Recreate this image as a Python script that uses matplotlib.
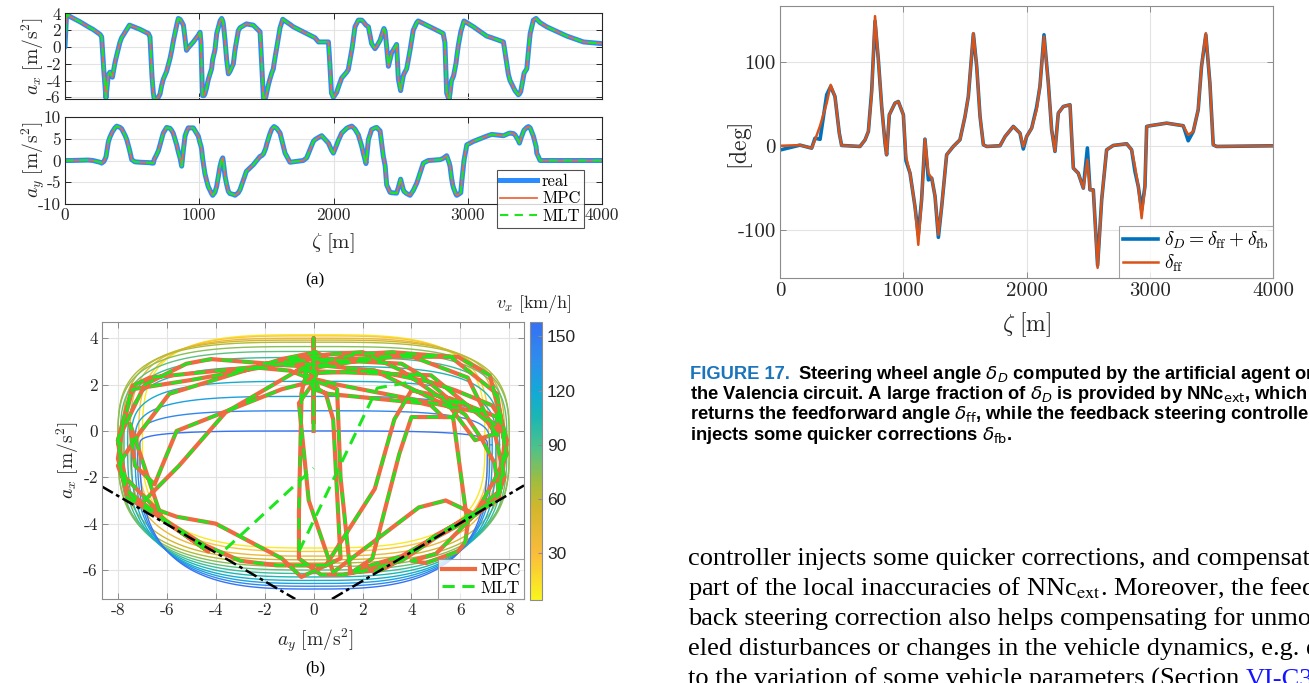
import numpy as np
import matplotlib
matplotlib.use("Agg")
import matplotlib.pyplot as plt
from matplotlib.colors import LinearSegmentedColormap, Normalize
from matplotlib.lines import Line2D

plt.rcParams["mathtext.fontset"] = "cm"
plt.rcParams["axes.unicode_minus"] = False
plt.rcParams["font.family"] = ["cmr10", "DejaVu Serif"]
plt.rcParams["axes.formatter.use_mathtext"] = False

# ---------------------------------------------------------------------------
# Longitudinal / lateral acceleration along the lap (common stations)
zeta = [0, 12, 40, 112, 174, 208, 261, 273, 290, 305,
        323, 335, 353, 372, 385, 410, 422, 447, 460, 480,
        497, 520, 559, 621, 633, 648, 658, 665, 680, 695,
        708, 720, 732, 757, 782, 795, 807, 832, 844, 857,
        869, 882, 894, 905, 918, 956, 993, 1006, 1013, 1018,
        1025, 1035, 1042, 1054, 1067, 1092, 1100, 1117, 1130, 1155,
        1167, 1175, 1180, 1192, 1204, 1217, 1229, 1254, 1266, 1291,
        1304, 1351, 1403, 1453, 1465, 1478, 1495, 1503, 1515, 1527,
        1540, 1552, 1557, 1577, 1602, 1622, 1639, 1676, 1701, 1775,
        1800, 1850, 1862, 1888, 1912, 1962, 1969, 1985, 1999, 2024,
        2036, 2061, 2098, 2110, 2136, 2140, 2160, 2185, 2210, 2222,
        2242, 2260, 2284, 2309, 2322, 2347, 2371, 2376, 2385, 2396,
        2409, 2421, 2433, 2470, 2483, 2500, 2519, 2525, 2545, 2570,
        2594, 2620, 2631, 2669, 2693, 2707, 2794, 2817, 2830, 2843,
        2861, 2868, 2879, 2888, 2895, 2913, 2918, 2930, 2948, 2955,
        2968, 2972, 2993, 3043, 3141, 3179, 3266, 3303, 3315, 3340,
        3352, 3377, 3385, 3395, 3414, 3420, 3440, 3452, 3465, 3489,
        3509, 3514, 3539, 3589, 3738, 3862, 4000]
ax_mpc = [0.0, 4.0, 3.6, 3.0, 2.4, 2.1, 1.5, 1.2, -3.0, -6.1,
          -3.3, -3.0, -3.6, -1.9, -1.0, 0.6, 1.1, 1.75, 2.1, 2.6,
          2.5, 2.35, 2.1, 1.6, 1.2, -3.5, -5.5, -6.2, -6.2, -6.0,
          -5.6, -4.6, -3.85, -2.9, -1.4, -0.4, 0.7, 2.6, 3.4, 3.3,
          3.0, 2.6, 1.0, -0.4, -0.1, 0.6, 1.4, 1.75, 0.5, -2.5,
          -5.8, -5.8, -5.6, -4.9, -3.9, -2.6, -1.5, -0.35, 1.6, 3.1,
          3.4, 3.1, 2.7, 0.8, -1.5, -3.2, -2.9, -2.0, -0.4, 1.95,
          2.3, 2.75, 2.6, 1.8, -2.0, -6.1, -6.0, -5.4, -4.5, -3.8,
          -3.1, -2.6, -2.0, -0.06, 2.3, 3.3, 3.1, 2.7, 2.4, 1.8,
          1.6, 1.2, 1.1, 0.6, 0.6, 0.6, -1.0, -5.5, -6.0, -5.4,
          -4.8, -3.7, -3.0, -2.7, -0.4, 0.0, 2.4, 3.2, 3.2, 3.0,
          2.6, 2.4, 0.4, -0.2, 0.1, 0.8, 2.0, 2.2, 1.8, 0.0,
          -2.3, -1.5, -0.7, 0.3, -3.8, -5.2, -3.5, -3.2, -2.6, -0.4,
          2.0, 2.9, 3.1, 2.8, 2.6, 2.5, 1.8, 1.6, 0.5, -5.5,
          -6.3, -5.5, -4.0, -3.7, -3.4, -1.9, -1.2, 0.2, 1.8, 2.2,
          2.9, 3.1, 2.9, 2.4, 1.3, 1.1, 0.6, -3.3, -4.0, -4.8,
          -5.2, -5.7, -5.6, -5.3, -3.6, -3.1, -2.6, -0.5, 1.6, 3.2,
          3.4, 3.3, 2.9, 2.4, 1.3, 0.6, 0.4]
ay_mpc = [0.0, 0.0, 0.0, 0.05, 0.1, 0.0, -0.4, -0.6, -0.2, 0.8,
          4.3, 5.4, 6.6, 7.5, 7.9, 7.6, 7.3, 5.8, 4.8, 2.5,
          0.2, -0.3, -0.4, -0.5, -0.5, -0.6, -0.6, 0.3, 1.2, 2.2,
          3.6, 5.0, 6.3, 7.6, 7.4, 6.9, 6.2, 3.6, 2.0, 0.6,
          -1.3, 2.5, 5.6, 6.6, 7.5, 7.5, 5.6, 4.0, 3.3, 2.5,
          0.5, -1.5, -3.0, -4.5, -6.0, -7.6, -8.0, -7.3, -5.9, -1.3,
          0.1, 0.6, -0.5, -3.6, -5.5, -7.1, -7.6, -7.8, -8.0, -7.4,
          -6.7, -2.5, -0.96, 0.96, 1.1, 1.5, 2.8, 3.8, 5.0, 6.2,
          7.2, 7.6, 7.8, 7.4, 6.3, 3.8, 1.7, -0.4, -0.3, 0.0,
          0.6, 4.4, 4.8, 5.3, 5.7, 4.0, 3.5, 2.4, 1.7, 3.6,
          4.6, 6.3, 7.4, 7.6, 7.9, 7.8, 7.2, 5.9, 3.3, 1.7,
          -0.7, 4.8, 7.1, 7.5, 7.6, 6.8, 0.96, 0.2, -1.3, -5.6,
          -6.5, -7.3, -7.4, -7.5, -6.2, -4.3, -6.6, -7.1, -7.6, -8.0,
          -6.9, -5.2, -4.2, -0.6, -0.2, 0.0, 0.2, 0.5, 0.8, 1.1,
          -0.5, -1.3, -4.0, -5.6, -6.4, -7.8, -8.0, -7.8, -7.4, -5.0,
          -1.3, 0.0, 3.6, 4.4, 5.6, 6.0, 5.7, 6.2, 6.3, 6.2,
          5.9, 4.6, 4.0, 5.0, 6.6, 7.0, 7.6, 7.8, 7.5, 5.6,
          3.2, 1.7, 0.0, 0.0, 0.0, 0.0, 0.0]

# MLT points that the coarser optimal-lap solution joins directly in the g-g plane
mlt_jump_ay = [-3.6, 0.0, np.nan, -0.6, 2.6, 3.9]
mlt_jump_ax = [-5.1, -1.6, np.nan, -5.2, 1.85, 2.1]

# ---------------------------------------------------------------------------
# g-g envelopes of the vehicle at several speeds
env_speed = [10, 25, 40, 55, 65, 75, 85, 95, 105, 115, 125, 140, 155]
env_ax_top = [4.15, 4.1, 4.0, 3.92, 3.83, 3.64, 3.43, 3.17, 2.78, 2.14, 1.49,
              0.87, 0.0]
env_ax_bot = [-5.05, -5.2, -5.4, -5.56, -5.7, -5.85, -6.0, -6.15, -6.3, -6.45,
              -6.58, -6.7, -6.82]
env_ay_max = [7.0, 7.15, 7.5, 7.8, 8.0, 8.0, 7.9, 7.75, 7.6, 7.45, 7.3, 7.2,
              7.1]

# friction-limit guide lines
guide_l_ay, guide_l_ax = [-8.65, -0.75], [-2.4, -7.25]
guide_r_ay, guide_r_ax = [0.75, 8.6], [-7.25, -2.35]

# ---------------------------------------------------------------------------
# Steering wheel angle
zeta_sw = [0, 162, 257, 284, 325, 379, 411, 446, 481, 500, 649, 690, 717, 744,
           771, 798, 825, 852, 865, 887, 933, 960, 1001, 1022, 1055, 1095,
           1122, 1149, 1176, 1204, 1231, 1258, 1285, 1312, 1352, 1406, 1460,
           1501, 1528, 1569, 1596, 1623, 1650, 1677, 1785, 1826, 1893, 1947,
           1974, 2001, 2042, 2082, 2109, 2142, 2177, 2204, 2231, 2258, 2299,
           2353, 2380, 2420, 2461, 2494, 2515, 2542, 2577, 2610, 2650, 2704,
           2813, 2853, 2880, 2907, 2934, 2961, 2975, 3002, 3137, 3272, 3312,
           3353, 3393, 3420, 3455, 3488, 3515, 3542, 4000]
delta_ff = [0, 0.8, -2.8, 7, 23.7, 50.7, 72.4, 58.6, 15, 0.4, -0.8, 7, 17,
            62.5, 154, 102, 46.7, 3.2, -10.7, 36.8, 50.7, 52.6, 36.8, -12.7,
            -32.5, -72, -117.6, -64, 7.9, -32.5, -38.4, -60, -105.7, -72,
            -10.7, -0.8, 7.1, 34.8, 58.6, 133.8, 94.2, 34.8, 1.2, -0.8, 0, 11,
            23, 15, -0.8, 11, 21, 42.8, 70.5, 129.8, 74.4, 19, -6.7, 38.8, 46.7,
            48.7, -26.5, -32.5, -50.3, -16.6, -52.3, -52.3, -145, -64, -4.8,
            0.4, 2.4, -4.8, -24.5, -48.3, -86, -48.3, 23, 23.8, 26.9, 23.8, 13,
            17, 42.8, 94.2, 133.8, 74.4, 1.2, -0.8, 0]
delta_fb = [-5, 0, 0, 2, -16, 10, -2, 0, 0, 0, 0, 0, 0, 3, -6, 0, 0, 0, 0, 0,
            0, 0, 0, -5, 0, 0, 12, 0, 0, -8, 0, 0, -3, 0, 0, 0, 0, 0, 0, -1, 0,
            0, 0, 0, 0, 0, 0, 0, -3, 0, 0, 3, 0, 2, 0, 0, 0, 0, 0, 0, 0, 0, 0,
            14, 0, 0, 3, 0, 0, 0, 0, 0, -6, 0, 10, 0, 0, 0, 0, 0, -7, 0, 0, 0,
            -2, 0, 0, 0, 0]

# ---------------------------------------------------------------------------
W, H = 1309, 683
fig = plt.figure(figsize=(W / 100, H / 100), dpi=100)


def box(x0, y0, x1, y1):
    return [x0 / W, 1 - y1 / H, (x1 - x0) / W, (y1 - y0) / H]


def style(ax, spine_col, fs):
    for s in ax.spines.values():
        s.set_color(spine_col)
        s.set_linewidth(0.8)
    ax.tick_params(direction="in", top=True, right=True, length=4,
                   width=0.7, colors=spine_col, labelcolor="#262626",
                   labelsize=fs, pad=3)
    ax.grid(True, color="#e3e3e3", linewidth=0.8)
    ax.set_axisbelow(True)


c_real = "#2a8cff"
c_mpc = "#ee6a40"
c_mlt = "#1ee61e"

# a_x panel
axx = fig.add_axes(box(65, 13, 602, 99))
axx.plot(zeta, ax_mpc, color=c_real, lw=3.6, solid_capstyle="round",
         solid_joinstyle="round")
axx.plot(zeta, ax_mpc, color=c_mpc, lw=1.3)
axx.plot(zeta, ax_mpc, color=c_mlt, lw=1.5, ls=(0, (4, 3)))
axx.set_xlim(0, 4000)
axx.set_ylim(-6.2, 4.05)
axx.set_yticks([-6, -4, -2, 0, 2, 4])
axx.set_xticks([0, 1000, 2000, 3000, 4000])
axx.set_xticklabels([])
style(axx, "#262626", 12.5)

# a_y panel
axy = fig.add_axes(box(65, 117, 602, 204))
axy.plot(zeta, ay_mpc, color=c_real, lw=3.6, solid_capstyle="round",
         solid_joinstyle="round")
axy.plot(zeta, ay_mpc, color=c_mpc, lw=1.3)
axy.plot(zeta, ay_mpc, color=c_mlt, lw=1.5, ls=(0, (4, 3)))
axy.set_xlim(0, 4000)
axy.set_ylim(-10, 10)
axy.set_yticks([-10, -5, 0, 5, 10])
axy.set_xticks([0, 1000, 2000, 3000, 4000])
style(axy, "#262626", 12.5)

fig.text(33 / W, 1 - 56 / H, r"$a_x\ [\mathrm{m/s^2}]$", rotation=90,
         ha="center", va="center", fontsize=14, color="#262626")
fig.text(33 / W, 1 - 160 / H, r"$a_y\ [\mathrm{m/s^2}]$", rotation=90,
         ha="center", va="center", fontsize=14, color="#262626")
fig.text(333 / W, 1 - 243 / H, r"$\zeta\ [\mathrm{m}]$", ha="center",
         va="center", fontsize=15, color="#262626")
fig.text(315 / W, 1 - 280 / H, "(a)", ha="center", va="center", fontsize=12.5,
         family="Liberation Serif")

hl = [Line2D([], [], color=c_real, lw=3.6),
      Line2D([], [], color=c_mpc, lw=1.3),
      Line2D([], [], color=c_mlt, lw=1.5, ls=(0, (4, 3)))]
leg = fig.legend(hl, ["real", "MPC", "MLT"], loc="upper left",
                 bbox_to_anchor=(497 / W, 1 - 170 / H), fontsize=12,
                 frameon=True, fancybox=False, edgecolor="#262626",
                 borderpad=0.2, handlelength=2.2, handletextpad=0.3,
                 labelspacing=0.15, borderaxespad=0)
leg.get_frame().set_linewidth(0.8)

# ---------------------------------------------------------------------------
# g-g diagram
spd_cmap = LinearSegmentedColormap.from_list(
    "speed",
    [(0.00, "#f9f51e"), (0.17, "#fbbb3c"), (0.33, "#d2b72c"),
     (0.42, "#a5bd3b"), (0.55, "#4cc28c"), (0.66, "#1ab6b4"),
     (0.75, "#13a9d8"), (0.87, "#2f8ced"), (1.00, "#3570f5")])
norm = Normalize(vmin=4, vmax=158)

axg = fig.add_axes(box(102, 322, 524, 599))
for v, at, ab, am in zip(env_speed, env_ax_top, env_ax_bot, env_ay_max):
    axc, q_up, q_lo = -0.6, 3.5, 3.0
    t_u = np.linspace(0, np.pi, 240)
    t_l = np.linspace(np.pi, 2 * np.pi, 240)
    cu, su = np.cos(t_u), np.sin(t_u)
    cl, sl = np.cos(t_l), np.sin(t_l)
    ey = np.r_[am * np.sign(cu) * np.abs(cu) ** (2 / q_up),
               am * np.sign(cl) * np.abs(cl) ** (2 / q_lo)]
    ex = np.r_[axc + (at - axc) * np.abs(su) ** (2 / q_up),
               axc - (axc - ab) * np.abs(sl) ** (2 / q_lo)]
    axg.plot(ey, ex, color=spd_cmap(norm(v)), lw=1.0)

axg.plot(ay_mpc, ax_mpc, color=c_mpc, lw=3.0, solid_joinstyle="round")
axg.plot(ay_mpc, ax_mpc, color=c_mlt, lw=2.0, ls=(0, (4, 3.5)))
axg.plot(mlt_jump_ay, mlt_jump_ax, color=c_mlt, lw=2.2, ls=(0, (4, 2.5)))
axg.plot(guide_l_ay, guide_l_ax, color="black", lw=1.8, ls=(0, (5, 1.5, 1.5, 1.5)))
axg.plot(guide_r_ay, guide_r_ax, color="black", lw=1.8, ls=(0, (5, 1.5, 1.5, 1.5)))
axg.set_xlim(-8.65, 8.6)
axg.set_ylim(-7.25, 4.7)
axg.set_xticks([-8, -6, -4, -2, 0, 2, 4, 6, 8])
axg.set_yticks([-6, -4, -2, 0, 2, 4])
style(axg, "#8c8c8c", 12.5)

gl = [Line2D([], [], color=c_mpc, lw=3.0),
      Line2D([], [], color=c_mlt, lw=2.2, ls=(0, (4, 2.5)))]
leg2 = axg.legend(gl, ["MPC", "MLT"], loc="lower right", fontsize=12.5,
                  frameon=True, fancybox=False, edgecolor="#8c8c8c",
                  borderpad=0.2, handlelength=1.9, handletextpad=0.3,
                  labelspacing=0.15, borderaxespad=0)
leg2.get_frame().set_linewidth(0.8)

fig.text(68 / W, 1 - 460 / H, r"$a_x\ [\mathrm{m/s^2}]$", rotation=90,
         ha="center", va="center", fontsize=14, color="#262626")
fig.text(315 / W, 1 - 640 / H, r"$a_y\ [\mathrm{m/s^2}]$", ha="center",
         va="center", fontsize=14, color="#262626")
fig.text(315 / W, 1 - 668 / H, "(b)", ha="center", va="center", fontsize=12.5,
         family="Liberation Serif")

cax = fig.add_axes(box(530, 322, 542, 600))
cb = fig.colorbar(plt.cm.ScalarMappable(norm=norm, cmap=spd_cmap), cax=cax)
cb.set_ticks([30, 60, 90, 120, 150])
cb.outline.set_edgecolor("#8c8c8c")
cb.outline.set_linewidth(0.8)
cax.tick_params(direction="in", length=3, colors="#8c8c8c", labelcolor="#262626",
                labelsize=12.5)
for lab in cax.get_yticklabels():
    lab.set_family("Liberation Sans")
fig.text(534 / W, 1 - 304 / H, r"$v_x\ [\mathrm{km/h}]$", ha="center",
         va="center", fontsize=13, color="#262626")

# ---------------------------------------------------------------------------
# steering wheel angle
delta_D = np.asarray(delta_ff) + np.asarray(delta_fb)
axs = fig.add_axes(box(780, 6, 1273, 278))
axs.plot(zeta_sw, delta_D, color="#0072bd", lw=2.6,
         label=r"$\delta_D=\delta_{\rm ff}+\delta_{\rm fb}$")
axs.plot(zeta_sw, delta_ff, color="#d95319", lw=1.8, label=r"$\delta_{\rm ff}$")
axs.set_xlim(0, 4000)
axs.set_ylim(-157, 166)
axs.set_xticks([0, 1000, 2000, 3000, 4000])
axs.set_yticks([-100, 0, 100])
style(axs, "#8c8c8c", 15)
leg3 = axs.legend(loc="lower right", fontsize=14, frameon=True, fancybox=False,
                  edgecolor="#8c8c8c", borderpad=0.2, handlelength=1.8,
                  handletextpad=0.3, labelspacing=0.1, borderaxespad=0)
leg3.get_frame().set_linewidth(0.8)
fig.text(741 / W, 1 - 146 / H, r"$[\mathrm{deg}]$", rotation=90, ha="center",
         va="center", fontsize=17, color="#262626")
fig.text(1027 / W, 1 - 325 / H, r"$\zeta\ [\mathrm{m}]$", ha="center",
         va="center", fontsize=17, color="#262626")

# ---------------------------------------------------------------------------
# caption and body text
renderer = fig.canvas.get_renderer()
cap_font = dict(family=["Liberation Sans"], weight="bold", fontsize=13.2,
                math_fontfamily="dejavusans")
t1 = fig.text(690 / W, 1 - 379 / H, "FIGURE 17.", color="#1b75bc", **cap_font)
bb = t1.get_window_extent(renderer)
fig.text(bb.x1 / W + 8 / W, 1 - 379 / H,
         r"Steering wheel angle $\delta_D$ computed by the artificial agent on",
         color="black", **cap_font)
cap_lines = [
    r"the Valencia circuit. A large fraction of $\delta_D$ is provided by NNc$_{\mathrm{ext}}$, which",
    r"returns the feedforward angle $\delta_{\mathrm{ff}}$, while the feedback steering controller",
    r"injects some quicker corrections $\delta_{\mathrm{fb}}$.",
]
for i, s in enumerate(cap_lines):
    fig.text(690 / W, 1 - (399 + 20.5 * i) / H, s, color="black", **cap_font)

body_font = dict(family="Liberation Serif", fontsize=19, math_fontfamily="stix")
body_lines = [
    "controller injects some quicker corrections, and compensates",
    r"part of the local inaccuracies of NNc$_{\mathrm{ext}}$. Moreover, the feed-",
    "back steering correction also helps compensating for unmod-",
    "eled disturbances or changes in the vehicle dynamics, e.g. due",
]
for i, s in enumerate(body_lines):
    fig.text(688 / W, 1 - (565 + 30 * i) / H, s, color="black", **body_font)
t5 = fig.text(688 / W, 1 - 686 / H,
              "to the variation of some vehicle parameters (Section ",
              color="black", **body_font)
bb5 = t5.get_window_extent(renderer)
fig.text(bb5.x1 / W, 1 - 686 / H, "VI-C3", color="#1414ff", **body_font)

fig.savefig("out.png", dpi=100)
